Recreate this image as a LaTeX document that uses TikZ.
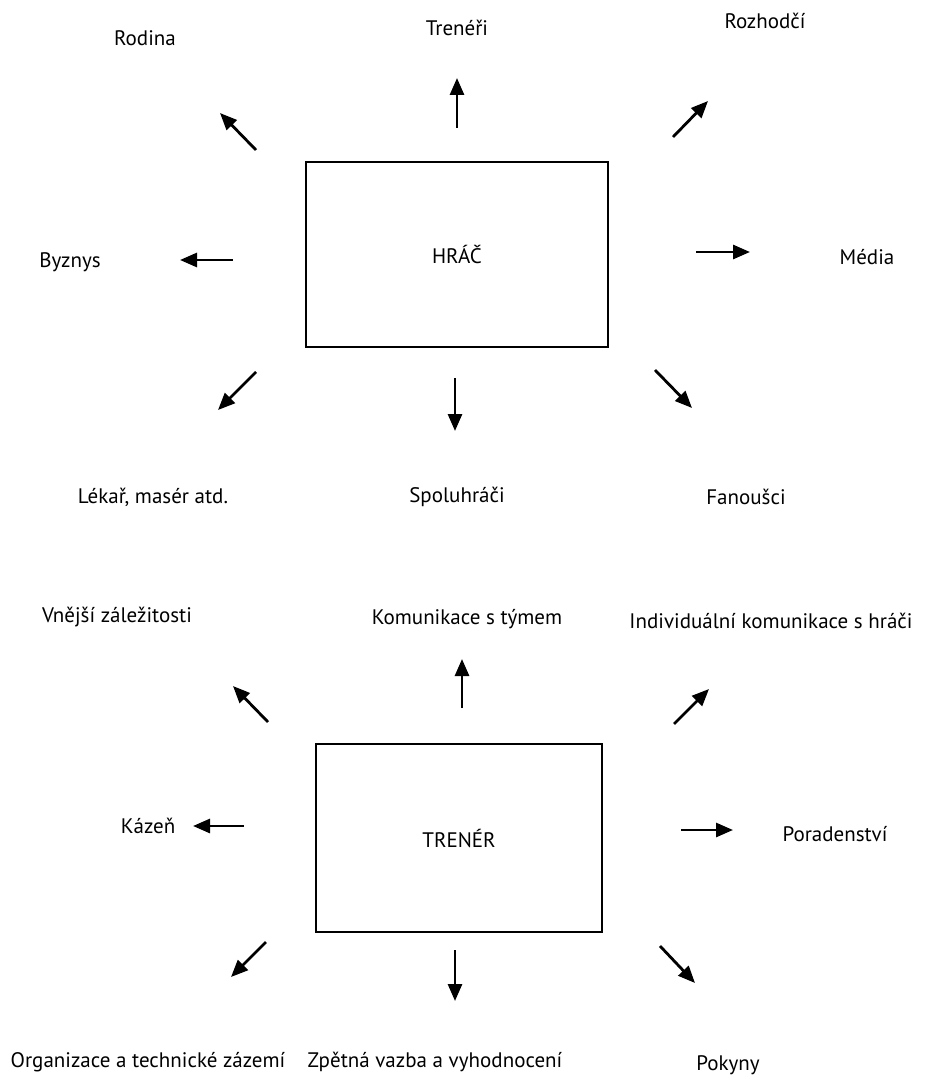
\documentclass[tikz,border=0pt]{standalone}
\usepackage{fontspec}
\setmainfont{PT Sans}
\usetikzlibrary{arrows.meta}
\begin{document}
\begin{tikzpicture}[x=1pt,y=-1pt,
  lbl/.style={font=\fontsize{21}{24}\selectfont, inner sep=0pt},
  boxnode/.style={draw, line width=2.8pt, font=\fontsize{21}{24}\selectfont},
  arr/.style={line width=2.8pt, -{Triangle[length=17pt,width=14pt]}}]
\useasboundingbox (0,0) rectangle (934,1086);
% ---------- top ----------
\node[boxnode, minimum width=302pt, minimum height=185pt] (hrac) at (457,254.5) {HRÁČ};
\node[lbl] (rodina) at (145,38) {Rodina};
\node[lbl] (treneri) at (457,28) {Trenéři};
\node[lbl] (rozhodci) at (765,21) {Rozhodčí};
\node[lbl] (byznys) at (70,262) {Byznys};
\node[lbl] (media) at (867,257) {Média};
\node[lbl] (lekar) at (153,497) {Lékař, masér atd.};
\node[lbl] (spolu) at (457,497) {Spoluhráči};
\node[lbl] (fanousci) at (746,497) {Fanoušci};
\coordinate (a1s) at (457,128); \coordinate (a1e) at (457,78);
\coordinate (a2s) at (256,150); \coordinate (a2e) at (220,113);
\coordinate (a3s) at (673,137); \coordinate (a3e) at (708,101);
\coordinate (a4s) at (233,260); \coordinate (a4e) at (180,260);
\coordinate (a5s) at (696,252); \coordinate (a5e) at (750,252);
\coordinate (a6s) at (256,372); \coordinate (a6e) at (218,410);
\coordinate (a7s) at (455,378); \coordinate (a7e) at (455,431);
\coordinate (a8s) at (655,370); \coordinate (a8e) at (692,408);
\foreach \i in {1,...,8} \draw[arr] (a\i s) -- (a\i e);
% ---------- bottom ----------
\node[boxnode, minimum width=286pt, minimum height=188pt] (trener) at (459,838) {TRENÉR};
\node[lbl] (vnejsi) at (117,617) {Vnější záležitosti};
\node[lbl] (komtym) at (467,619) {Komunikace s týmem};
\node[lbl] (indiv) at (771,621) {Individuální komunikace s hráči};
\node[lbl] (kazen) at (148,826) {Kázeň};
\node[lbl] (porad) at (835,834) {Poradenství};
\node[lbl] (organ) at (148,1062) {Organizace a technické zázemí};
\node[lbl] (zpetna) at (435,1062) {Zpětná vazba a vyhodnocení};
\node[lbl] (pokyny) at (728,1065) {Pokyny};
\coordinate (b1s) at (462,708); \coordinate (b1e) at (462,659);
\coordinate (b2s) at (268,722); \coordinate (b2e) at (233,686);
\coordinate (b3s) at (674,724); \coordinate (b3e) at (709,689);
\coordinate (b4s) at (244,826); \coordinate (b4e) at (193,826);
\coordinate (b5s) at (681,830); \coordinate (b5e) at (733,830);
\coordinate (b6s) at (266,942); \coordinate (b6e) at (231,977);
\coordinate (b7s) at (455,950); \coordinate (b7e) at (455,1001);
\coordinate (b8s) at (660,946); \coordinate (b8e) at (695,983);
\foreach \i in {1,...,8} \draw[arr] (b\i s) -- (b\i e);
\end{tikzpicture}
\end{document}
